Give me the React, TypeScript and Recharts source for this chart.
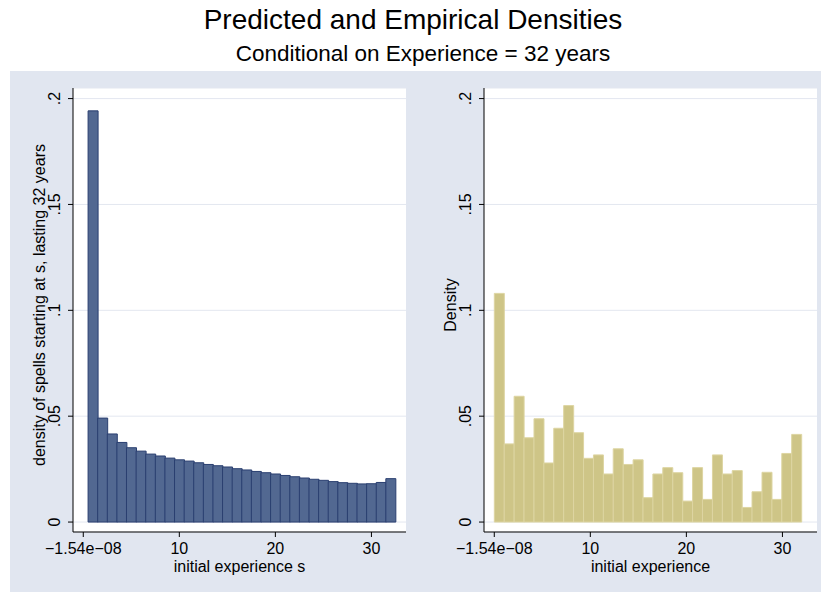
import React from 'react';
import { BarChart, Bar, XAxis, YAxis, CartesianGrid, Label } from 'recharts';

// predicted density, one bar per starting year s
const predictedX = [1, 2, 3, 4, 5, 6, 7, 8, 9, 10, 11, 12, 13, 14, 15, 16, 17, 18, 19, 20, 21, 22, 23, 24, 25, 26, 27, 28, 29, 30, 31, 32];
const predictedDensity = [
  0.1942, 0.0491, 0.0416, 0.0376, 0.0351, 0.0335, 0.0321, 0.0312, 0.0302, 0.0294, 0.0288,
  0.028, 0.0272, 0.0266, 0.026, 0.0252, 0.0246, 0.0239, 0.0233, 0.0227, 0.022, 0.0214,
  0.0208, 0.0202, 0.0197, 0.0191, 0.0186, 0.0183, 0.018, 0.0181, 0.0187, 0.0205,
];

// empirical histogram, 31 bins over 0..32 (bin midpoints)
const empiricalX = [
  0.52, 1.55, 2.58, 3.61, 4.65, 5.68, 6.71, 7.74, 8.77, 9.81, 10.84, 11.87, 12.9, 13.94, 14.97,
  16.0, 17.03, 18.06, 19.1, 20.13, 21.16, 22.19, 23.23, 24.26, 25.29, 26.32, 27.35, 28.39, 29.42,
  30.45, 31.48,
];
const empiricalDensity = [
  0.108, 0.0369, 0.0594, 0.0398, 0.0488, 0.0279, 0.0443, 0.055, 0.0422, 0.0301, 0.0317, 0.0227,
  0.0346, 0.0272, 0.0294, 0.0115, 0.0227, 0.0257, 0.0233, 0.0099, 0.0257, 0.0107, 0.0317, 0.0227,
  0.0243, 0.0069, 0.0143, 0.0235, 0.0107, 0.0324, 0.0414,
];

const yTicks = [0, 0.05, 0.1, 0.15, 0.2];
const xTicks = [-1.54e-8, 10, 20, 30];

const FONT = '"Liberation Sans", Arial, sans-serif';

const fmtY = (v: number) => (v === 0 ? '0' : String(v).replace(/^0/, ''));
const fmtX = (v: number) => {
  if (v >= 0) return String(v);
  const [m, e] = v.toExponential(2).split('e');
  const exp = (e.startsWith('-') ? '-' : '+') + e.replace(/^[-+]/, '').padStart(2, '0');
  return (m + 'e' + exp).replace(/-/g, '\u2212');
};

const YTick = (props: any) => {
  const { x, y, payload } = props;
  return (
    <text x={x} y={y} transform={`rotate(-90, ${x}, ${y})`} textAnchor="middle" fontSize={16} fill="#000" fontFamily={FONT}>
      {fmtY(payload.value)}
    </text>
  );
};

const XTick = (props: any) => {
  const { x, y, payload } = props;
  return (
    <text x={x} y={y} dy={15} textAnchor="middle" fontSize={16} fill="#000" fontFamily={FONT}>
      {fmtX(payload.value)}
    </text>
  );
};

type PanelProps = {
  xs: number[];
  ys: number[];
  fill: string;
  stroke: string;
  yTitle: string;
  xTitle: string;
  yAxisWidth: number;
  width: number;
};

function Panel({ xs, ys, fill, stroke, yTitle, xTitle, yAxisWidth, width }: PanelProps) {
  const data = xs.map((x, i) => ({ x, density: ys[i] }));
  return (
    <BarChart
      width={width}
      height={521}
      data={data}
      margin={{ top: 17, right: 4, left: 0, bottom: 0 }}
      barCategoryGap={0}
      barGap={0}
    >
      <CartesianGrid vertical={false} stroke="#E3E7F0" fill="#fff" />
      <XAxis
        dataKey="x"
        type="number"
        domain={[-1.07, 33.6]}
        ticks={xTicks}
        allowDataOverflow
        height={60}
        axisLine={{ stroke: '#000' }}
        tickLine={{ stroke: '#000' }}
        tickSize={5}
        tickMargin={2}
        tick={<XTick />}
      >
        <Label
          content={(p: any) => {
            const vb = p.viewBox;
            return (
              <text x={vb.x + vb.width / 2} y={vb.y + 40} textAnchor="middle" fontSize={16} fill="#000" fontFamily={FONT}>
                {xTitle}
              </text>
            );
          }}
        />
      </XAxis>
      <YAxis
        type="number"
        domain={[-0.0047, 0.205]}
        ticks={yTicks}
        allowDataOverflow
        width={yAxisWidth}
        axisLine={{ stroke: '#000' }}
        tickLine={{ stroke: '#000' }}
        tickSize={5}
        tickMargin={8}
        tick={<YTick />}
      >
        <Label
          content={(p: any) => {
            const vb = p.viewBox;
            const x = vb.x + vb.width - 28;
            const y = vb.y + vb.height / 2 - 5;
            return (
              <text x={x} y={y} transform={`rotate(-90, ${x}, ${y})`} textAnchor="middle" fontSize={16} fill="#000" fontFamily={FONT}>
                {yTitle}
              </text>
            );
          }}
        />
      </YAxis>
      <Bar dataKey="density" fill={fill} stroke={stroke} strokeWidth={1} isAnimationActive={false} />
    </BarChart>
  );
}

export default function App() {
  return (
    <div style={{ position: 'absolute', left: 0, top: 0, width: 821, height: 592, background: '#fff', fontFamily: FONT, overflow: 'hidden' }}>
      <div style={{ position: 'absolute', left: 0, top: 0, width: 821, height: 70 }}>
        <svg width={821} height={70}>
          <text x={413} y={29} textAnchor="middle" fontSize={28} fill="#000" fontFamily={FONT}>
            Predicted and Empirical Densities
          </text>
          <text x={423} y={61} textAnchor="middle" fontSize={22.5} fill="#000" fontFamily={FONT}>
            Conditional on Experience = 32 years
          </text>
        </svg>
      </div>
      <div style={{ position: 'absolute', left: 10, top: 71, width: 811, height: 521, background: '#E1E6F0' }} />
      <div style={{ position: 'absolute', left: 10, top: 71 }}>
        <Panel
          xs={predictedX}
          ys={predictedDensity}
          fill="#526891"
          stroke="#2A3F70"
          yTitle="density of spells starting at s, lasting 32 years"
          xTitle="initial experience s"
          yAxisWidth={63}
          width={400}
        />
      </div>
      <div style={{ position: 'absolute', left: 414, top: 71 }}>
        <Panel
          xs={empiricalX}
          ys={empiricalDensity}
          fill="#CEC587"
          stroke="#DDD5A2"
          yTitle="Density"
          xTitle="initial experience"
          yAxisWidth={70}
          width={407}
        />
      </div>
    </div>
  );
}
